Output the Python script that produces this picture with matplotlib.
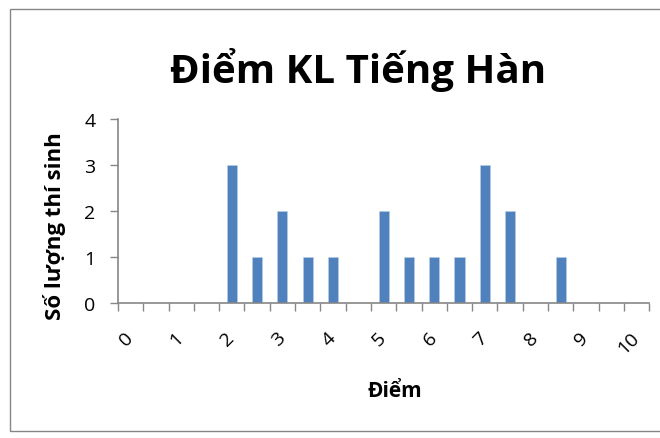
import matplotlib
matplotlib.use("Agg")
import matplotlib.pyplot as plt
import matplotlib.transforms as mtransforms
from matplotlib.patches import Rectangle

plt.rcParams['font.family'] = ['Open Sans', 'DejaVu Sans']

# diem tu 0 den 10, buoc 0.5
diem = [0, 0.5, 1, 1.5, 2, 2.5, 3, 3.5, 4, 4.5, 5, 5.5, 6, 6.5, 7, 7.5, 8, 8.5, 9, 9.5, 10]
so_luong = [0, 0, 0, 0, 3, 1, 2, 1, 1, 0, 2, 1, 1, 1, 3, 2, 0, 1, 0, 0, 0]
nhan_x = [str(int(d)) if d == int(d) else "" for d in diem]
y_ticks = [0, 1, 2, 3, 4]

title = "Điểm KL Tiếng Hàn"
xlabel = "Điểm"
ylabel = "Số lượng thí sinh"

grey = "#868686"
blue = "#4f81bd"

fig = plt.figure(figsize=(6.6, 4.39), dpi=100)
fig.patches.append(Rectangle((10 / 660, 1 - 432 / 439), 700 / 660, 422 / 439,
                             transform=fig.transFigure, fill=False,
                             edgecolor=grey, linewidth=1))

ax = fig.add_axes([117.9 / 660, 1 - 304 / 439, 531.4 / 660, 184 / 439])
pos = list(range(len(diem)))
ax.bar(pos, so_luong, width=0.4, color=blue, edgecolor="#b9cde5", linewidth=0.4)

ax.set_xlim(-0.5, len(diem) - 0.5)
ax.set_ylim(0, 4)
ax.set_yticks(y_ticks)
ax.set_yticklabels([str(v) for v in y_ticks], fontsize=14)

ax.set_xticks([p - 0.5 for p in pos] + [len(diem) - 0.5])
ax.set_xticklabels([])
ax.set_xticks(pos, minor=True)
ax.set_xticklabels(nhan_x, minor=True, rotation=45, fontsize=14,
                   ha="right", va="top")
ax.tick_params(axis="x", which="minor", length=0, pad=18)
ax.tick_params(axis="x", which="major", length=6, color=grey, width=1)
ax.tick_params(axis="y", length=6, color=grey, width=1, pad=10)

# dich nhan sang phai mot chut
offset = mtransforms.ScaledTranslation(0.06, 0, fig.dpi_scale_trans)
for lb in ax.xaxis.get_minorticklabels():
    lb.set_transform(lb.get_transform() + offset)

for s in ["top", "right"]:
    ax.spines[s].set_visible(False)
for s in ["left", "bottom"]:
    ax.spines[s].set_color(grey)
    ax.spines[s].set_linewidth(1.2)

fig.text(358 / 660, 1 - 83 / 439, title, fontsize=29, fontweight="bold",
         ha="center", va="baseline")
fig.text(395 / 660, 1 - 397 / 439, xlabel, fontsize=15, fontweight="bold",
         ha="center", va="baseline")
fig.text(55 / 660, 1 - 226 / 439, ylabel, fontsize=16, fontweight="bold",
         ha="center", va="center", rotation=90)

fig.savefig("out.png", dpi=100)
